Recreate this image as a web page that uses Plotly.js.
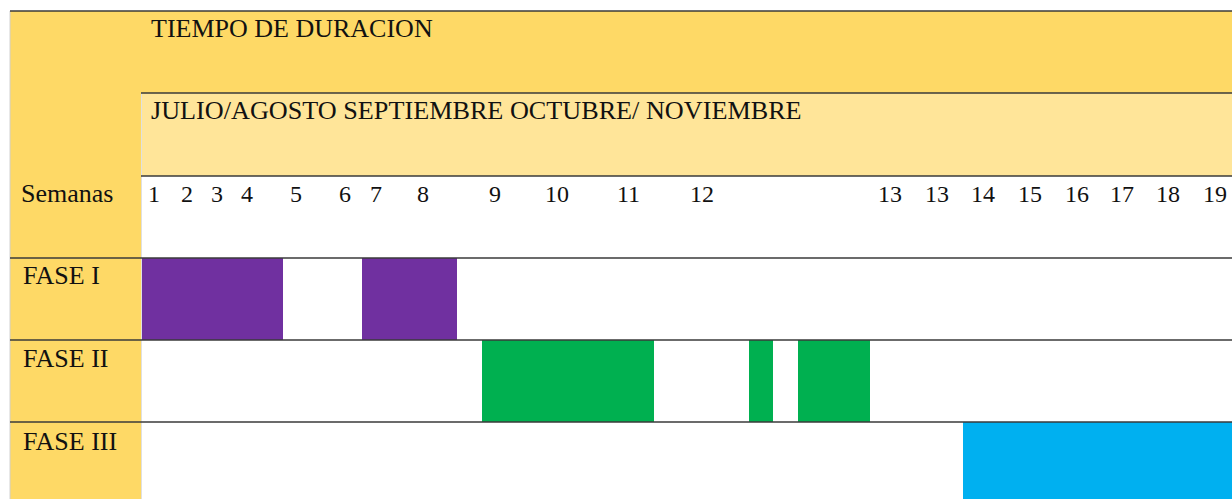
<!DOCTYPE html>
<html>
<head>
<meta charset="utf-8">
<script src="https://cdn.plot.ly/plotly-3.0.1.min.js"></script>
</head>
<body style="margin:0;background:#fff">
<div id="chart"></div>
<script>
// ---- data ----
const phases = ['FASE I', 'FASE II', 'FASE III'];
const phaseColors = ['#7030A0', '#00B050', '#00B0F0'];
// segment start / end along the timeline (same units as the x axis)
const segStart = [[141, 362], [482, 749, 798], [963]];
const segEnd   = [[283, 457], [654, 773, 870], [1232]];
const weekLabels = ['1','2','3','4','5','6','7','8','9','10','11','12','13','13','14','15','16','17','18','19'];
const weekPos = [154, 187, 217, 247, 296, 345, 376, 423, 495, 557, 628, 702, 890, 937, 983, 1030, 1077, 1122, 1168, 1215];
const titleText = 'TIEMPO DE DURACION';
const monthsText = 'JULIO/AGOSTO SEPTIEMBRE OCTUBRE/ NOVIEMBRE';
const rowHeaderText = 'Semanas';

// ---- layout helpers ----
const W = 1232, H = 499;
const py = p => 1 - p / H;   // pixel row -> paper y
const px = p => p / W;       // pixel col -> paper x
const FONT = 'Liberation Serif';
const gold = '#FED966', lightGold = '#FFE599', lineCol = '#3a3a3a';

const traces = phases.map((ph, i) => ({
  type: 'bar',
  orientation: 'h',
  y: segStart[i].map(() => ph),
  base: segStart[i],
  x: segStart[i].map((s, j) => segEnd[i][j] - s),
  width: 1,
  marker: {color: phaseColors[i], line: {width: 0}},
  hoverinfo: 'skip',
  showlegend: false
}));

const shapes = [
  {type:'rect', xref:'paper', yref:'paper', x0:px(10), x1:1, y0:py(93), y1:py(11), fillcolor:gold, line:{width:0}, layer:'below'},
  {type:'rect', xref:'paper', yref:'paper', x0:px(141), x1:1, y0:py(176), y1:py(93), fillcolor:lightGold, line:{width:0}, layer:'below'},
  {type:'rect', xref:'paper', yref:'paper', x0:px(10), x1:px(141), y0:0, y1:py(93), fillcolor:gold, line:{width:0}, layer:'below'},
  {type:'line', xref:'paper', yref:'paper', x0:px(10), x1:px(10), y0:0, y1:py(11), line:{color:'#d0d0d0', width:1}},
  {type:'line', xref:'paper', yref:'paper', x0:px(141.5), x1:px(141.5), y0:0, y1:py(93), line:{color:'#e0e0e0', width:1}},
  {type:'line', xref:'paper', yref:'paper', x0:px(10), x1:1, y0:py(11), y1:py(11), line:{color:lineCol, width:1.5}},
  {type:'line', xref:'paper', yref:'paper', x0:px(141), x1:1, y0:py(93), y1:py(93), line:{color:lineCol, width:1.5}},
  {type:'line', xref:'paper', yref:'paper', x0:px(141), x1:1, y0:py(176), y1:py(176), line:{color:lineCol, width:1.5}},
  {type:'line', xref:'paper', yref:'paper', x0:px(10), x1:1, y0:py(258), y1:py(258), line:{color:lineCol, width:1.5}},
  {type:'line', xref:'paper', yref:'paper', x0:px(10), x1:1, y0:py(340), y1:py(340), line:{color:lineCol, width:1.5}},
  {type:'line', xref:'paper', yref:'paper', x0:px(10), x1:1, y0:py(422), y1:py(422), line:{color:lineCol, width:1.5}}
];

const txt = (text, x, y, size) => ({
  text: text, xref:'paper', yref:'paper', x: x, y: y,
  xanchor: 'left', yanchor: 'middle', showarrow: false,
  font: {family: FONT, size: size, color: '#111111'}
});

const annotations = [
  txt(titleText, px(149), py(28), 26),
  txt(monthsText, px(149), py(110), 26.2),
  txt(rowHeaderText, px(19), py(194), 26),
  txt(phases[0], px(21), py(275), 26),
  txt(phases[1], px(21), py(358), 26),
  txt(phases[2], px(21), py(441), 26)
];
weekLabels.forEach((w, i) => {
  annotations.push({
    text: w, xref:'x', yref:'paper', x: weekPos[i], y: py(194),
    xanchor:'center', yanchor:'middle', showarrow:false,
    font:{family: FONT, size: 24, color:'#111111'}
  });
});

const layout = {
  width: W, height: H,
  margin: {l:0, r:0, t:0, b:0},
  font: {family: FONT},
  paper_bgcolor: '#ffffff',
  plot_bgcolor: 'rgba(0,0,0,0)',
  barmode: 'overlay',
  xaxis: {range:[0, W], domain:[0,1], visible:false, fixedrange:true},
  yaxis: {type:'category', categoryorder:'array', categoryarray: phases,
          range:[2.5 - 5/82, -0.5], domain:[0, py(258)], visible:false, fixedrange:true},
  shapes: shapes,
  annotations: annotations,
  showlegend: false
};

Plotly.newPlot('chart', traces, layout, {displayModeBar:false});
</script>
</body>
</html>
